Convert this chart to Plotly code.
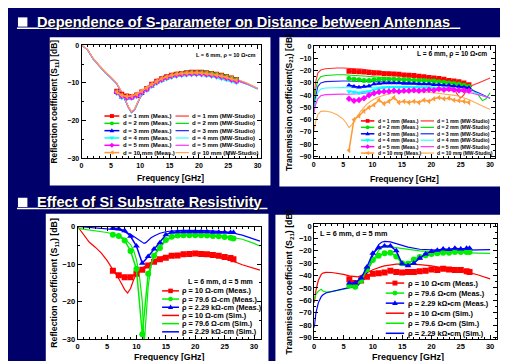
import plotly.graph_objects as go

W, H = 508, 361
NAVY = '#00006b'
FONT = 'Liberation Sans, Arial, sans-serif'

# ---------------- data ----------------
dist_labels = ['1', '2', '3', '4', '5', '10']
dist_colors = ['#ff0000', '#00e000', '#0000ff', '#00ffff', '#ff00ff', '#ff9933']
dist_sim_colors = ['#ff3333', '#00dd00', '#2222ff', '#33ffff', '#ff33ff', '#ffaa55']
dist_symbols = ['square', 'circle', 'triangle-up', 'triangle-down', 'diamond', 'triangle-left']

f_meas_top = [6.0, 6.85, 7.7, 8.55, 9.4, 10.25, 11.1, 11.95, 12.8, 13.65, 14.5, 15.35, 16.2,
              17.05, 17.9, 18.75, 19.6, 20.45, 21.3, 22.15, 23.0, 23.85, 24.7, 25.55, 26.4]

# S11 vs distance (top-left)
f_sim_s11 = [0, 1, 2, 3, 4, 5, 6, 7, 7.5, 8, 8.5, 9, 9.5, 10, 11, 12, 13, 14, 16, 18, 20, 22, 24, 26, 28, 30]
s11_sim_d1 = [0, -1.2, -3.6, -5.4, -7.1, -8.5, -10.1, -12.9, -14.7, -16.4, -17.7, -17.1, -15.4, -13.7, -11.5, -10.1, -9.0, -8.2, -7.3, -7.0, -7.0, -7.4, -8.1, -8.9, -10.0, -11.5]
s11_sim_d2 = [0, -1.2, -3.7, -5.5, -7.2, -8.6, -10.2, -13.0, -14.8, -16.5, -17.8, -17.2, -15.5, -13.8, -11.6, -10.2, -9.1, -8.3, -7.4, -7.1, -7.1, -7.5, -8.2, -9.0, -10.1, -11.5]
s11_sim_d3 = [0, -1.2, -3.7, -5.6, -7.3, -8.7, -10.3, -13.1, -14.9, -16.6, -17.9, -17.3, -15.6, -13.9, -11.7, -10.3, -9.2, -8.4, -7.5, -7.2, -7.2, -7.6, -8.3, -9.1, -10.2, -11.6]
s11_sim_d4 = [0, -1.2, -3.8, -5.6, -7.3, -8.7, -10.3, -13.1, -15.0, -16.7, -17.9, -17.3, -15.6, -13.9, -11.7, -10.3, -9.2, -8.4, -7.5, -7.2, -7.3, -7.7, -8.4, -9.2, -10.3, -11.6]
s11_sim_d5 = [0, -1.2, -3.7, -5.5, -7.2, -8.6, -10.2, -13.0, -14.8, -16.6, -17.8, -17.2, -15.5, -13.8, -11.6, -10.2, -9.1, -8.3, -7.4, -7.1, -7.2, -7.6, -8.3, -9.1, -10.2, -11.5]
s11_sim_d10 = [0, -1.1, -3.6, -5.4, -7.1, -8.5, -10.1, -12.8, -14.6, -16.3, -17.6, -17.0, -15.3, -13.6, -11.4, -10.0, -8.9, -8.1, -7.2, -6.9, -6.9, -7.3, -8.0, -8.8, -9.9, -11.4]

s11_meas_d1 = [-12.2, -13.0, -13.5, -13.6, -13.2, -12.4, -11.5, -10.4, -9.6, -8.9, -8.4, -8.0, -7.7, -7.5, -7.3, -7.2, -7.2, -7.2, -7.3, -7.5, -7.7, -8.0, -8.3, -8.7, -9.1]
s11_meas_d2 = [-12.4, -13.4, -13.8, -13.9, -13.4, -12.6, -11.7, -10.6, -9.8, -9.0, -8.5, -8.1, -7.8, -7.6, -7.4, -7.3, -7.3, -7.3, -7.4, -7.6, -7.8, -8.1, -8.4, -8.8, -9.2]
s11_meas_d3 = [-12.6, -13.8, -14.1, -14.0, -13.6, -12.8, -11.9, -10.9, -10.0, -9.3, -8.8, -8.4, -8.1, -7.9, -7.8, -7.7, -7.7, -7.8, -7.9, -8.1, -8.4, -8.7, -9.0, -9.4, -9.8]
s11_meas_d4 = [-12.8, -14.0, -14.3, -14.1, -13.7, -12.9, -12.0, -11.0, -10.2, -9.5, -9.0, -8.6, -8.3, -8.1, -8.0, -7.9, -7.9, -8.0, -8.1, -8.3, -8.6, -8.9, -9.2, -9.6, -10.0]
s11_meas_d5 = [-12.5, -13.5, -13.9, -13.8, -13.3, -12.5, -11.6, -10.6, -9.8, -9.1, -8.6, -8.2, -7.9, -7.7, -7.6, -7.5, -7.5, -7.6, -7.7, -7.9, -8.1, -8.4, -8.7, -9.1, -9.5]
s11_meas_d10 = [-12.4, -13.3, -13.6, -13.5, -13.0, -12.2, -11.3, -10.4, -9.6, -8.9, -8.4, -8.0, -7.7, -7.5, -7.4, -7.3, -7.3, -7.4, -7.5, -7.7, -7.9, -8.2, -8.5, -8.9, -9.3]

# S21 vs distance (top-right)
f_sim_s21 = [0, 0.3, 0.7, 1.2, 2, 3, 4, 5, 5.5, 6, 6.5, 7, 8, 9, 10, 11, 12, 13, 14, 16, 18, 20, 22, 23, 24, 24.5, 25, 25.5, 26, 27, 28, 28.7, 29.3, 30]
s21_sim_d1 = [-45, -30, -22, -19.5, -18.5, -18, -17.8, -17.8, -17.9, -18, -18.2, -18.4, -18.8, -19.3, -19.9, -20.5, -21.1, -21.7, -22.3, -23.6, -24.8, -25.7, -28, -31, -36, -40, -42.3, -40, -36, -32, -30, -28.5, -27.3, -26]
s21_sim_d2 = [-50, -36, -28, -25, -24, -23.5, -23.3, -23.3, -23.4, -23.5, -23.6, -23.8, -24.2, -24.6, -25, -25.3, -25.6, -25.9, -26.2, -26.8, -27.5, -28.3, -29.5, -30.2, -31, -31.5, -32, -32.5, -33, -35.5, -40, -44.5, -43, -38]
s21_sim_d3 = [-55, -42, -33, -30, -29, -28.6, -28.4, -28.4, -28.5, -28.6, -28.7, -28.8, -29, -29.1, -29.2, -29.2, -29.3, -29.4, -29.5, -29.8, -30.2, -30.8, -31.5, -32, -32.5, -33, -33.5, -34, -34.5, -36, -38, -39.5, -41, -42.5]
s21_sim_d4 = [-55, -45, -38, -35, -34.2, -33.9, -33.8, -33.8, -33.9, -34, -34, -34, -33.9, -33.7, -33.4, -33.2, -33, -32.9, -32.8, -32.8, -32.9, -33.1, -33.6, -34, -34.5, -34.8, -35.2, -35.6, -36, -37.5, -39, -40.3, -41.3, -42.5]
s21_sim_d5 = [-55, -48, -43, -40.5, -39.6, -39.3, -39.2, -39.2, -39.3, -39.3, -39.3, -39.2, -38.8, -38.3, -37.7, -37.3, -37, -36.8, -36.6, -36.3, -36, -35.8, -35.8, -36, -36.3, -36.5, -36.8, -37.1, -37.5, -38.5, -39.5, -40.5, -41.5, -42.5]
s21_sim_d10 = [-70, -62, -56, -53.2, -53, -54, -56, -59.5, -62.5, -66.5, -64, -60, -53, -47.5, -44, -41.5, -39.8, -38.6, -37.8, -37.2, -37.2, -37.8, -38.8, -39.5, -40.2, -40.7, -41.3, -42, -43, -45, -47.5, -49, -50.3, -51.5]

s21_meas_d1 = [-20.5, -20.8, -21.0, -21.2, -21.5, -22.0, -22.0, -22.5, -22.5, -22.8, -23.0, -23.5, -23.8, -24.0, -24.5, -25.0, -25.5, -26.0, -26.5, -27.0, -28.0, -28.5, -29.0, -30.0, -31.5]
s21_meas_d2 = [-26.5, -27.0, -27.5, -28.0, -28.0, -27.5, -27.0, -27.0, -27.0, -27.0, -27.2, -27.5, -27.5, -27.8, -28.0, -28.0, -28.5, -28.5, -29.0, -29.5, -30.0, -30.5, -31.0, -32.0, -33.0]
s21_meas_d3 = [-32.0, -33.0, -33.5, -33.0, -32.5, -31.0, -30.5, -30.0, -30.0, -30.0, -30.0, -30.5, -30.5, -30.5, -31.0, -31.0, -31.0, -31.5, -31.5, -32.0, -32.0, -32.5, -33.0, -33.5, -34.0]
s21_meas_d4 = [-37.0, -37.5, -38.0, -37.5, -37.0, -35.5, -34.5, -34.0, -33.5, -33.5, -33.5, -33.5, -33.5, -34.0, -34.0, -34.0, -34.0, -34.5, -34.5, -35.0, -35.0, -35.0, -35.5, -36.0, -36.5]
s21_meas_d5 = [-43.0, -44.5, -44.0, -42.5, -40.0, -38.5, -37.5, -37.0, -37.0, -36.5, -37.0, -36.5, -36.5, -36.0, -36.5, -36.0, -35.5, -36.0, -35.0, -35.5, -35.0, -35.5, -36.0, -36.0, -36.5]
s21_meas_d10 = [-85.0, -60.0, -57.0, -53.0, -50.0, -48.0, -44.0, -47.0, -45.0, -42.0, -46.0, -45.0, -46.0, -45.0, -46.0, -44.0, -45.0, -43.0, -42.0, -43.0, -42.5, -44.0, -44.5, -45.0, -46.0]

# resistivity study (bottom)
res_colors = ['#ff0000', '#00ee00', '#0000ff']
res_symbols = ['square', 'circle', 'triangle-up']
f_meas_bot = [6, 7, 8, 9, 10, 11, 12, 13, 14, 15, 16, 17, 18, 19, 20, 21, 22, 23, 24, 25, 26, 26.5]

f_sim_s11_res = [0, 1, 2, 3, 4, 5, 6, 7, 7.5, 8, 8.5, 9, 9.5, 10, 10.5, 11, 11.3, 11.6, 12, 12.5, 13, 14, 15, 16, 18, 20, 22, 24, 26, 28, 30, 31]
s11_sim_r10 = [0, -2.0, -4.2, -5.5, -7.0, -9.0, -11.3, -13.9, -15.3, -16.8, -17.7, -16.5, -14.3, -12.6, -11.6, -11.0, -10.7, -10.4, -10.0, -9.5, -8.9, -8.3, -7.8, -7.5, -7.2, -7.1, -7.4, -8.1, -9.0, -10.2, -11.2, -11.6]
s11_sim_r79 = [-0.5, -0.7, -0.9, -1.1, -1.3, -1.6, -2.0, -2.5, -2.8, -3.3, -4.0, -4.8, -6.2, -8.8, -13.0, -20.0, -32.0, -25.0, -16.0, -10.3, -7.8, -4.9, -3.7, -3.0, -2.4, -2.2, -2.2, -2.4, -2.8, -3.4, -4.5, -5.2]
s11_sim_r2k = [0, -0.1, -0.2, -0.3, -0.4, -0.5, -0.7, -0.9, -1.1, -1.4, -1.7, -2.1, -2.6, -3.1, -3.7, -4.3, -4.5, -4.3, -3.7, -3.0, -2.5, -1.8, -1.4, -1.2, -1.0, -1.0, -1.1, -1.3, -1.6, -2.3, -3.4, -3.9]
s11_meas_r10 = [-11.8, -13.0, -13.5, -13.5, -12.6, -11.5, -10.4, -9.4, -8.7, -8.3, -7.8, -7.7, -7.4, -7.3, -7.2, -7.3, -7.4, -7.6, -7.8, -8.1, -8.4, -8.7]
s11_meas_r79 = [-2.2, -2.5, -3.7, -6.5, -11.3, -28.7, -12.6, -7.8, -5.7, -3.6, -2.7, -2.4, -2.3, -2.3, -2.3, -2.3, -2.4, -2.5, -2.6, -2.8, -3.0, -3.2]
s11_meas_r2k = [-0.4, -0.6, -1.1, -2.6, -5.2, -9.8, -8.0, -6.0, -4.3, -2.2, -1.5, -1.4, -1.4, -1.4, -1.4, -1.4, -1.4, -1.5, -1.5, -1.5, -1.6, -1.6]

f_sim_s21_res = [0, 0.3, 0.7, 1.2, 1.5, 2, 3, 4, 5, 6, 7, 7.5, 8, 8.5, 9, 9.5, 10, 10.5, 11, 11.5, 12, 13, 14, 15, 16, 18, 20, 22, 24, 26, 28, 30]
s21_sim_r10 = [-62, -52, -44, -39, -38, -37.4, -37.5, -38, -39, -40.2, -41, -41, -40, -39, -37.9, -36.5, -35.3, -34.3, -33.5, -32.8, -32.2, -31.3, -30.7, -30.5, -30.5, -31.1, -32.2, -33.6, -35.2, -37, -39.5, -42.6]
s21_sim_r79 = [-60, -55, -52.5, -51, -52.5, -53.3, -53, -52.2, -51.2, -50, -49, -47.8, -45, -41.5, -37, -32.5, -28, -23.5, -19.5, -17.5, -16.7, -16.8, -17.5, -18.3, -19, -20, -20.7, -21.1, -21.4, -21.6, -21.8, -22]
s21_sim_r2k = [-82, -70, -62, -57, -55.5, -54, -52.8, -51.8, -50.8, -49.8, -48.5, -47.5, -44.5, -40.5, -38, -31, -24, -19, -15, -13, -12.3, -12.8, -14.2, -15.8, -17, -18.7, -19.4, -19.6, -19.6, -19.4, -19.2, -19]
s21_meas_r10 = [-43, -46, -44, -41, -38.5, -38, -37.5, -36, -37, -37.5, -37, -37, -36.5, -36, -35, -35.5, -34.5, -35, -35.5, -35.5, -36.5, -37]
s21_meas_r79 = [-48, -49, -44, -35, -27.5, -24, -22, -21.5, -24.5, -30, -30.5, -27, -25, -23.5, -22.5, -22, -21.5, -21.5, -21, -21, -21, -21]
s21_meas_r2k = [-46, -46, -42, -33, -22, -17.5, -16, -16, -20, -30.5, -32, -30, -26, -22.5, -20.5, -19.5, -18.5, -19, -18, -18.5, -18, -18]

dist_meas_labels = ['d = %s mm (Meas.)' % d for d in dist_labels]
dist_sim_labels = ['d = %s mm (MW-Studio)' % d for d in dist_labels]
res_labels_bl = ['ρ = 10 Ω-cm (Meas.)', 'ρ = 79.6 Ω-cm (Meas.)', 'ρ = 2.29 kΩ-cm (Meas.)',
                 'ρ = 10 Ω-cm (Sim.)', 'ρ = 79.6 Ω-cm (Sim.)', 'ρ = 2.29 kΩ-cm (Sim.)']
res_labels_br = ['ρ = 10 Ω•cm (Meas.)', 'ρ = 79.6 Ω•cm (Meas.)', 'ρ = 2.29 kΩ•cm (Meas.)',
                 'ρ = 10 Ω•cm (Sim.)', 'ρ = 79.6 Ω•cm (Sim.)', 'ρ = 2.29 kΩ•cm (Sim.)']

# ---------------- figure ----------------
fig = go.Figure()

s11_sims = [s11_sim_d1, s11_sim_d2, s11_sim_d3, s11_sim_d4, s11_sim_d5, s11_sim_d10]
s11_meas = [s11_meas_d1, s11_meas_d2, s11_meas_d3, s11_meas_d4, s11_meas_d5, s11_meas_d10]
s21_sims = [s21_sim_d1, s21_sim_d2, s21_sim_d3, s21_sim_d4, s21_sim_d5, s21_sim_d10]
s21_meas = [s21_meas_d1, s21_meas_d2, s21_meas_d3, s21_meas_d4, s21_meas_d5, s21_meas_d10]

for i in range(6):
    fig.add_trace(go.Scatter(x=f_sim_s11, y=s11_sims[i], mode='lines', xaxis='x', yaxis='y',
                             line=dict(color=dist_sim_colors[i], width=1.1), showlegend=False))
    fig.add_trace(go.Scatter(x=f_sim_s21, y=s21_sims[i], mode='lines', xaxis='x2', yaxis='y2',
                             line=dict(color=dist_sim_colors[i], width=1.1), showlegend=False))
for i in range(6):
    fig.add_trace(go.Scatter(x=f_meas_top, y=s11_meas[i], mode='lines+markers', xaxis='x', yaxis='y',
                             line=dict(color=dist_colors[i], width=1.5),
                             marker=dict(symbol=dist_symbols[i], size=5, color=dist_colors[i]),
                             showlegend=False))
    fig.add_trace(go.Scatter(x=f_meas_top, y=s21_meas[i], mode='lines+markers', xaxis='x2', yaxis='y2',
                             line=dict(color=dist_colors[i], width=1.5),
                             marker=dict(symbol=dist_symbols[i], size=5, color=dist_colors[i]),
                             showlegend=False))

bl_sims = [s11_sim_r10, s11_sim_r79, s11_sim_r2k]
bl_meas = [s11_meas_r10, s11_meas_r79, s11_meas_r2k]
br_sims = [s21_sim_r10, s21_sim_r79, s21_sim_r2k]
br_meas = [s21_meas_r10, s21_meas_r79, s21_meas_r2k]
for i in range(3):
    fig.add_trace(go.Scatter(x=f_sim_s11_res, y=bl_sims[i], mode='lines', xaxis='x3', yaxis='y3',
                             line=dict(color=res_colors[i], width=1.2), showlegend=False))
    fig.add_trace(go.Scatter(x=f_sim_s21_res, y=br_sims[i], mode='lines', xaxis='x4', yaxis='y4',
                             line=dict(color=res_colors[i], width=1.2), showlegend=False))
for i in range(3):
    fig.add_trace(go.Scatter(x=f_meas_bot, y=bl_meas[i], mode='lines+markers', xaxis='x3', yaxis='y3',
                             line=dict(color=res_colors[i], width=1.5),
                             marker=dict(symbol=res_symbols[i], size=6, color=res_colors[i]),
                             showlegend=False))
    fig.add_trace(go.Scatter(x=f_meas_bot, y=br_meas[i], mode='lines+markers', xaxis='x4', yaxis='y4',
                             line=dict(color=res_colors[i], width=1.5),
                             marker=dict(symbol=res_symbols[i], size=6, color=res_colors[i]),
                             showlegend=False))


def px(x):
    return x / W


def py(y):
    return 1 - y / H


def axis(x0, x1, rng, dtick, mdtick, size, **kw):
    d = dict(domain=[px(x0), px(x1)], range=rng, dtick=dtick, showline=True, linecolor='black',
             linewidth=1, mirror='allticks', ticks='inside', ticklen=4, tickwidth=1, tickcolor='black',
             showgrid=False, zeroline=False,
             tickfont=dict(family=FONT, size=size, color='black', weight='bold'),
             minor=dict(dtick=mdtick, ticks='inside', ticklen=2, tickcolor='black', showgrid=False))
    d.update(kw)
    return d


def yaxis(y_top, y_bot, rng, dtick, mdtick, size, anchor):
    return dict(domain=[py(y_bot), py(y_top)], range=rng, dtick=dtick, showline=True, linecolor='black',
                linewidth=1, mirror='allticks', ticks='inside', ticklen=4, tickwidth=1, tickcolor='black',
                showgrid=False, zeroline=False, anchor=anchor,
                tickfont=dict(family=FONT, size=size, color='black', weight='bold'),
                minor=dict(dtick=mdtick, ticks='inside', ticklen=2, tickcolor='black', showgrid=False))


fig.update_layout(
    width=W, height=H, margin=dict(l=0, r=0, t=0, b=0),
    paper_bgcolor=NAVY, plot_bgcolor='white', showlegend=False,
    xaxis=axis(72, 252, [0, 30.5], 5, 1, 7, anchor='y'),
    yaxis=yaxis(34, 150, [-30, 0], 10, 5, 7, 'x'),
    xaxis2=axis(305.5, 488, [0, 30.85], 5, 1, 7, anchor='y2'),
    yaxis2=yaxis(35, 149.5, [-91.1, 0], 10, 5, 7, 'x2'),
    xaxis3=axis(68, 252, [0, 31.1], 5, 1, 7.5, anchor='y3'),
    yaxis3=yaxis(220, 335.5, [-30, 0], 10, 5, 7.5, 'x3'),
    xaxis4=axis(306, 490, [0, 31.2], 5, 1, 7.5, anchor='y4'),
    yaxis4=yaxis(217, 335.5, [-91.3, 2], 10, 5, 7.5, 'x4'),
)

shapes = []
annos = []

# white panels
for (x0, y0, x1, y1) in [(40, 26, 262, 178), (271, 26, 495, 179), (36, 207, 260, 359), (267, 208, 494, 359)]:
    shapes.append(dict(type='rect', xref='paper', yref='paper', x0=px(x0), x1=px(x1), y0=py(y1), y1=py(y0),
                       fillcolor='white', line=dict(width=0), layer='below'))

# section headers
headers = ['Dependence of S-parameter on Distance between Antennas', 'Effect of Si Substrate Resistivity']
for text, yc, ul_end in [(headers[0], 10, 453), (headers[1], 195, 259)]:
    shapes.append(dict(type='rect', xref='paper', yref='paper', x0=px(8), x1=px(17.5), y0=py(yc + 5), y1=py(yc - 4.5),
                       fillcolor='white', line=dict(width=0)))
    shapes.append(dict(type='line', xref='paper', yref='paper', x0=px(7), x1=px(ul_end), y0=py(yc + 6.6), y1=py(yc + 6.6),
                       line=dict(color='white', width=1.6)))
    annos.append(dict(text=text, x=px(25.5), y=py(yc), xref='paper', yref='paper',
                      xanchor='left', yanchor='middle', showarrow=False,
                      font=dict(family=FONT, size=14.6, color='white', weight='bold',
                                shadow='1px 1px 1px #000000')))


def text_anno(text, x, y, size, xanchor='left', angle=0):
    annos.append(dict(text=text, x=px(x), y=py(y), xref='paper', yref='paper', xanchor=xanchor,
                      yanchor='middle', showarrow=False, textangle=angle,
                      font=dict(family=FONT, size=size, color='black', weight='bold')))


def marker_shape(sym, cx, cy, r, color):
    if sym == 'circle':
        return dict(type='circle', xref='paper', yref='paper', x0=px(cx - r), x1=px(cx + r),
                    y0=py(cy + r), y1=py(cy - r), fillcolor=color, line=dict(width=0))
    if sym == 'square':
        pts = [(cx - r, cy - r), (cx + r, cy - r), (cx + r, cy + r), (cx - r, cy + r)]
    elif sym == 'triangle-up':
        pts = [(cx, cy - 1.2 * r), (cx + 1.15 * r, cy + 0.8 * r), (cx - 1.15 * r, cy + 0.8 * r)]
    elif sym == 'triangle-down':
        pts = [(cx, cy + 1.2 * r), (cx + 1.15 * r, cy - 0.8 * r), (cx - 1.15 * r, cy - 0.8 * r)]
    elif sym == 'triangle-left':
        pts = [(cx - 1.2 * r, cy), (cx + 0.8 * r, cy - 1.15 * r), (cx + 0.8 * r, cy + 1.15 * r)]
    else:  # diamond
        pts = [(cx, cy - 1.3 * r), (cx + 1.3 * r, cy), (cx, cy + 1.3 * r), (cx - 1.3 * r, cy)]
    path = 'M' + 'L'.join('%.5f,%.5f' % (px(a), py(b)) for a, b in pts) + 'Z'
    return dict(type='path', xref='paper', yref='paper', path=path, fillcolor=color, line=dict(width=0))


def legend_row(x0, x1, y, color, sym, r, label, size, lw):
    shapes.append(dict(type='line', xref='paper', yref='paper', x0=px(x0), x1=px(x1), y0=py(y), y1=py(y),
                       line=dict(color=color, width=lw)))
    if sym:
        shapes.append(marker_shape(sym, (x0 + x1) / 2, y, r, color))
    text_anno(label, x1 + 1.5, y, size)


# legends top-left
for i in range(6):
    y = 106.7 + 7.5 * i
    legend_row(95, 110, y, dist_colors[i], dist_symbols[i], 2.0, dist_meas_labels[i], 6, 1.5)
    legend_row(166.5, 180, y, dist_sim_colors[i], None, 0, dist_sim_labels[i], 6, 1.2)
# legends top-right
for i in range(6):
    y = 111.7 + 6.6 * i
    legend_row(353, 366.5, y, dist_colors[i], dist_symbols[i], 1.9, dist_meas_labels[i], 5, 1.5)
    legend_row(413, 426.5, y, dist_sim_colors[i], None, 0, dist_sim_labels[i], 5, 1.2)
# legend bottom-left
for i in range(6):
    y = 286 + 8.4 * i
    sym = res_symbols[i] if i < 3 else None
    legend_row(153, 170, y, res_colors[i % 3], sym, 2.3, res_labels_bl[i], 7.3, 1.5)
# legend bottom-right
for i in range(6):
    y = 278 + 10.3 * i
    sym = res_symbols[i] if i < 3 else None
    legend_row(378, 396.5, y, res_colors[i % 3], sym, 2.5, res_labels_br[i], 7.4, 1.5)

# info annotations
text_anno('L = 6 mm, ρ = 10 Ω•cm', 185, 44, 5.6)
text_anno('L = 6 mm, ρ = 10 Ω•cm', 407, 43, 6.6)
text_anno('L = 6 mm, d = 5 mm', 177, 277, 7)
text_anno('L = 6 mm, d = 5 mm', 309.5, 227, 7.3)

# axis titles
text_anno('Frequency [GHz]', 161, 170, 8.4, xanchor='center')
text_anno('Frequency [GHz]', 397, 171, 8.6, xanchor='center')
text_anno('Frequency [GHz]', 160, 354, 8.8, xanchor='center')
text_anno('Frequency [GHz]', 400.5, 354, 9, xanchor='center')
annos.append(dict(text='Reflection coefficient (S<sub>11</sub>) [dB]', x=px(45), y=py(92), xref='paper', yref='paper',
                  xanchor='center', yanchor='middle', showarrow=False, textangle=-90,
                  font=dict(family=FONT, size=8.4, color='black', weight='bold')))
annos.append(dict(text='Transmission coefficient(S<sub>21</sub>) [dB]', x=px(281), y=py(93), xref='paper', yref='paper',
                  xanchor='center', yanchor='middle', showarrow=False, textangle=-90,
                  font=dict(family=FONT, size=8.5, color='black', weight='bold')))
annos.append(dict(text='Reflection coefficient (S<sub>11</sub>) [dB]', x=px(44), y=py(278), xref='paper', yref='paper',
                  xanchor='center', yanchor='middle', showarrow=False, textangle=-90,
                  font=dict(family=FONT, size=8.8, color='black', weight='bold')))
annos.append(dict(text='Transmission coefficient (S<sub>21</sub>) [dB]', x=px(281), y=py(277), xref='paper', yref='paper',
                  xanchor='center', yanchor='middle', showarrow=False, textangle=-90,
                  font=dict(family=FONT, size=8.8, color='black', weight='bold')))

fig.update_layout(shapes=shapes, annotations=annos)
fig.write_html('out.html')
